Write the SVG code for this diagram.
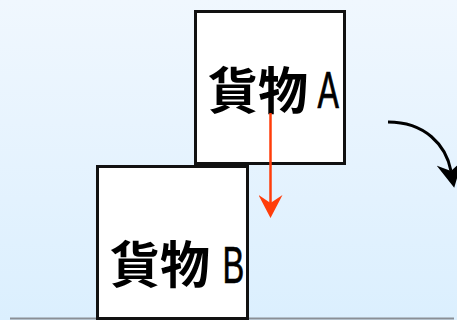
<svg xmlns="http://www.w3.org/2000/svg" width="457" height="320" viewBox="0 0 457 320">
<defs>
<linearGradient id="bg" x1="0" y1="0" x2="0" y2="1">
<stop offset="0" stop-color="#f0f7fe"/>
<stop offset="1" stop-color="#dbeffe"/>
</linearGradient>
<marker id="ahRed" viewBox="0 0 24 24" refX="8" refY="12" markerWidth="24" markerHeight="24" markerUnits="userSpaceOnUse" orient="auto">
<path d="M0,0 L23,12 L0,24 L8,12 Z" fill="#ff3d0a"/>
</marker>
<marker id="ahBlack" viewBox="0 0 26 26" refX="8" refY="13" markerWidth="26" markerHeight="26" markerUnits="userSpaceOnUse" orient="auto">
<path d="M0,0 L25,13 L0,26 L8,13 Z" fill="#000"/>
</marker>
</defs>
<style>
.box{fill:#fff;stroke:#111;stroke-width:3}
.lbl{font-family:"Noto Sans CJK JP","Noto Sans",sans-serif;font-size:50px;font-weight:bold;fill:#000}
.lat{font-family:"Liberation Sans",Arial,sans-serif;font-size:51px;fill:#000;stroke:#000;stroke-width:0.7}
</style>
<rect width="457" height="320" fill="url(#bg)"/>
<line x1="10" y1="318.5" x2="454" y2="318.5" stroke="#8a8f96" stroke-width="2"/>
<g id="cargoB">
<rect class="box" x="97.5" y="166.5" width="150" height="152"/>
<text class="lbl" x="110" y="283">貨物</text>
<text class="lat" transform="translate(222.5,283) scale(0.64,1)">B</text>
</g>
<g id="cargoA">
<rect class="box" x="195.5" y="11.5" width="149" height="152"/>
<text class="lbl" x="208" y="109">貨物</text>
<text class="lat" transform="translate(317.5,107.5) scale(0.63,1)">A</text>
</g>
<g id="connectors">
<line x1="270.5" y1="113" x2="270.5" y2="203" stroke="#ff3d0a" stroke-width="2.5" marker-end="url(#ahRed)"/>
<path d="M388,122 C425,122 446,145 451,171" fill="none" stroke="#000" stroke-width="3" marker-end="url(#ahBlack)"/>
</g>
</svg>
